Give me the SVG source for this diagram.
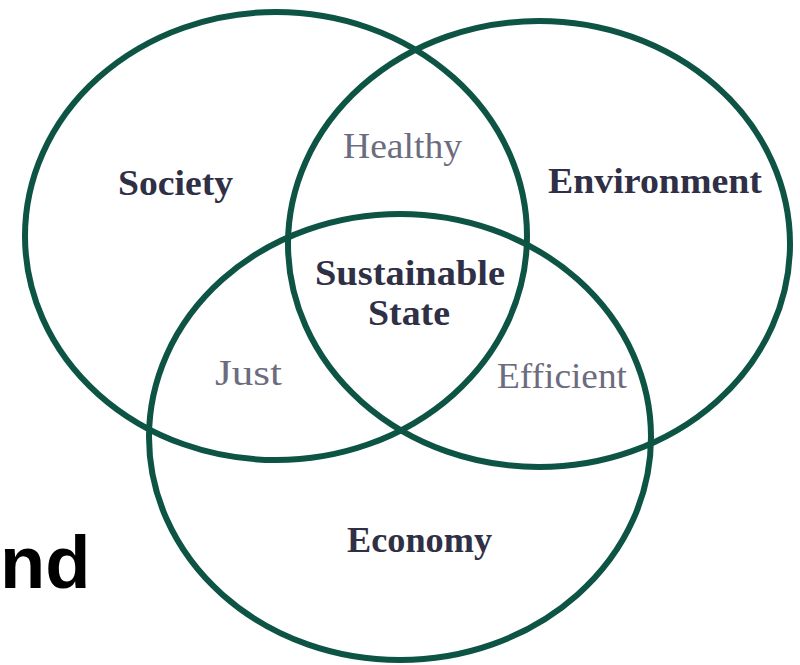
<svg xmlns="http://www.w3.org/2000/svg" width="800" height="665" viewBox="0 0 800 665">
<style>
.c{fill:none;stroke:#0d5444;stroke-width:6}
.b{font-family:"Liberation Serif","DejaVu Serif",serif;font-weight:bold;font-size:36px;fill:#2f2f46;text-anchor:middle}
.l{font-family:"Liberation Serif","DejaVu Serif",serif;font-size:36px;fill:#6c6c7e;text-anchor:middle}
</style>
<rect width="800" height="665" fill="#ffffff"/>
<g id="circles">
<ellipse id="society" class="c" cx="276" cy="236" rx="251" ry="224"/>
<ellipse id="environment" class="c" cx="539" cy="244" rx="251" ry="223"/>
<ellipse id="economy" class="c" cx="400" cy="437" rx="251" ry="223"/>
</g>
<g id="labels">
<text class="b" x="175.5" y="195" textLength="115" lengthAdjust="spacingAndGlyphs">Society</text>
<text class="l" x="402.5" y="158" textLength="119" lengthAdjust="spacingAndGlyphs">Healthy</text>
<text class="b" x="655" y="193" textLength="214" lengthAdjust="spacingAndGlyphs">Environment</text>
<text class="b" x="410" y="285" textLength="190" lengthAdjust="spacingAndGlyphs">Sustainable</text>
<text class="b" x="409" y="325" textLength="82" lengthAdjust="spacingAndGlyphs">State</text>
<text class="l" x="248.5" y="385" textLength="67" lengthAdjust="spacingAndGlyphs">Just</text>
<text class="l" x="562" y="388" textLength="130" lengthAdjust="spacingAndGlyphs">Efficient</text>
<text class="b" x="419.5" y="552" textLength="145" lengthAdjust="spacingAndGlyphs">Economy</text>
</g>
<text x="0" y="588" font-family="Liberation Sans, Arial, sans-serif" font-weight="bold" font-size="74" fill="#000000">nd</text>
</svg>
